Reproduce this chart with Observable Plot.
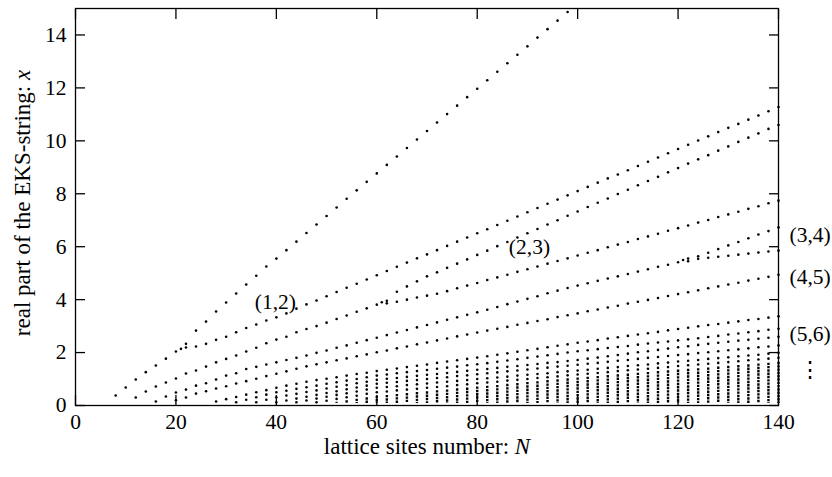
<!DOCTYPE html>
<html><head><meta charset="utf-8">
<script src="https://cdn.jsdelivr.net/npm/d3@7"></script>
<script src="https://cdn.jsdelivr.net/npm/@observablehq/plot@0.6"></script>
<style>body{margin:0;background:#fff}#chart svg{display:block}</style>
</head><body><div id="chart"></div>
<script>
// ---- data (x = real part of EKS string, N = lattice sites) ----
const xTicks = [0, 20, 40, 60, 80, 100, 120, 140];
const yTicks = [0, 2, 4, 6, 8, 10, 12, 14];

const trackA_N0 = 22;
const trackA = [2.33,2.83,3.17,3.55,3.89,4.23,4.57,4.9,5.25,5.55,5.87,6.19,6.52,6.84,7.16,7.48,7.81,8.13,8.45,8.77,9.09,9.41,9.73,10.05,10.37,10.69,11.01,11.33,11.65,11.97,12.29,12.61,12.93,13.25,13.57,13.9,14.22,14.54,14.87];
const trackB_N0 = 8;
const trackB = [0.38,0.68,0.98,1.26,1.51,1.77,2.04,2.19,2.23,2.33,2.48,2.6,2.77,2.93,3.06,3.21,3.33,3.48,3.66,3.82,3.97,4.13,4.29,4.45,4.6,4.76,4.92,5.08,5.24,5.4,5.56,5.71,5.87,6.03,6.19,6.35,6.51,6.66,6.82,6.98,7.14,7.3,7.46,7.62,7.78,7.94,8.1,8.26,8.42,8.58,8.73,8.89,9.05,9.21,9.37,9.53,9.69,9.85,10.01,10.17,10.33,10.49,10.64,10.8,10.96,11.12,11.28];
const trackC_N0 = 12;
const trackC = [0.3,0.53,0.72,0.87,1.02,1.21,1.32,1.47,1.63,1.76,1.89,2.04,2.18,2.35,2.49,2.6,2.77,2.89,3.0,3.13,3.27,3.4,3.54,3.67,3.81,3.86,3.92,4.0,4.08,4.15,4.22,4.32,4.43,4.53,4.63,4.74,4.84,4.94,5.05,5.15,5.25,5.36,5.46,5.56,5.67,5.77,5.87,5.98,6.08,6.18,6.29,6.39,6.49,6.6,6.7,6.8,6.91,7.01,7.12,7.22,7.32,7.43,7.53,7.64,7.74];
const trackCu_N0 = 62;
const trackCu = [3.96,4.3,4.5,4.69,4.88,5.03,5.2,5.36,5.52,5.69,5.85,6.02,6.18,6.35,6.51,6.67,6.84,7.0,7.17,7.33,7.5,7.66,7.82,7.99,8.15,8.32,8.48,8.64,8.81,8.97,9.14,9.3,9.46,9.63,9.79,9.96,10.12,10.28,10.45,10.6];
const trackD_N0 = 16;
const trackD = [0.15,0.34,0.49,0.6,0.75,0.84,0.98,1.13,1.22,1.38,1.46,1.55,1.63,1.72,1.8,1.89,1.99,2.08,2.18,2.27,2.37,2.47,2.56,2.66,2.76,2.85,2.95,3.04,3.14,3.24,3.33,3.43,3.52,3.62,3.72,3.83,3.93,4.03,4.13,4.24,4.34,4.44,4.53,4.62,4.71,4.8,4.88,4.97,5.06,5.15,5.24,5.32,5.41,5.55,5.64,5.77,5.91,6.05,6.18,6.32,6.46,6.59,6.73];
const trackE_N0 = 122;
const trackE = [5.45,5.54,5.58,5.62,5.66,5.7,5.74,5.78,5.82,5.85];
const trackF_N0 = 20;
const trackF = [0.2,0.3,0.45,0.54,0.64,0.73,0.83,0.92,1.01,1.11,1.2,1.29,1.39,1.48,1.56,1.63,1.71,1.78,1.86,1.93,2.01,2.08,2.16,2.23,2.31,2.38,2.46,2.53,2.61,2.68,2.76,2.83,2.9,2.97,3.05,3.12,3.19,3.26,3.34,3.41,3.48,3.56,3.63,3.7,3.77,3.85,3.92,3.99,4.06,4.14,4.21,4.28,4.35,4.43,4.5,4.57,4.64,4.72,4.79,4.86,4.94];
const trackG1_N0 = 28;
const trackG1 = [0.15,0.24,0.32,0.41,0.5,0.58,0.67,0.75,0.82,0.9,0.96,1.01,1.07,1.13,1.19,1.24,1.3,1.35,1.4,1.45,1.5,1.55,1.61,1.66,1.71,1.76,1.81,1.86,1.92,1.97,2.03,2.09,2.14,2.2,2.26,2.31,2.37,2.42,2.47,2.53,2.58,2.63,2.68,2.73,2.78,2.84,2.89,2.94,2.99,3.04,3.08,3.13,3.18,3.23,3.27,3.32,3.37];
const trackG2_N0 = 32;
const trackG2 = [0.12,0.22,0.31,0.41,0.5,0.56,0.63,0.69,0.75,0.82,0.88,0.94,1.0,1.07,1.13,1.17,1.22,1.26,1.3,1.34,1.39,1.43,1.47,1.52,1.56,1.6,1.65,1.7,1.75,1.8,1.85,1.9,1.95,2.0,2.05,2.09,2.13,2.17,2.21,2.25,2.3,2.34,2.38,2.42,2.46,2.5,2.54,2.59,2.63,2.68,2.72,2.77,2.81,2.86,2.9];
const trackG3_N0 = 36;
const trackG3 = [0.12,0.22,0.31,0.38,0.44,0.51,0.57,0.64,0.71,0.77,0.84,0.9,0.97,1.01,1.04,1.08,1.12,1.16,1.19,1.23,1.27,1.31,1.35,1.38,1.42,1.46,1.49,1.53,1.57,1.61,1.64,1.68,1.72,1.77,1.81,1.86,1.91,1.96,2.01,2.05,2.1,2.15,2.2,2.24,2.29,2.33,2.37,2.41,2.45,2.48,2.52,2.56,2.6];
const trackG4_N0 = 40;
const trackG4 = [0.12,0.19,0.26,0.33,0.4,0.47,0.54,0.61,0.68,0.75,0.82,0.86,0.89,0.93,0.96,1.0,1.04,1.07,1.11,1.14,1.18,1.22,1.25,1.29,1.32,1.36,1.4,1.43,1.47,1.5,1.54,1.58,1.61,1.65,1.69,1.72,1.76,1.8,1.83,1.87,1.91,1.94,1.98,2.01,2.05,2.09,2.12,2.16,2.2,2.23,2.27];
const trackG5_N0 = 44;
const trackG5 = [0.12,0.19,0.26,0.33,0.4,0.46,0.53,0.6,0.67,0.7,0.73,0.77,0.8,0.83,0.87,0.9,0.93,0.96,1.0,1.03,1.06,1.09,1.13,1.16,1.19,1.22,1.26,1.29,1.32,1.35,1.39,1.42,1.45,1.49,1.52,1.55,1.59,1.62,1.66,1.69,1.72,1.76,1.79,1.82,1.86,1.89,1.92,1.96,1.99];
const trackG6_N0 = 48;
const trackG6 = [0.12,0.18,0.25,0.31,0.37,0.44,0.5,0.53,0.57,0.6,0.63,0.67,0.7,0.73,0.77,0.8,0.84,0.87,0.9,0.94,0.97,1.0,1.04,1.07,1.1,1.14,1.17,1.2,1.23,1.26,1.3,1.33,1.36,1.39,1.42,1.45,1.49,1.52,1.55,1.58,1.61,1.64,1.67,1.71,1.74,1.77,1.8];
// tightly packed columns of roots below the resolvable tracks: top of each column
const denseTop_N0 = 52;
const denseTop = [0.12,0.18,0.24,0.29,0.35,0.38,0.42,0.45,0.49,0.52,0.56,0.59,0.63,0.66,0.7,0.73,0.76,0.8,0.83,0.87,0.9,0.94,0.97,1.01,1.04,1.07,1.1,1.13,1.16,1.19,1.22,1.25,1.28,1.31,1.34,1.37,1.39,1.42,1.45,1.48,1.51,1.54,1.57,1.6,1.63];
const denseBottom = 0.08;
// extra roots near the branch points
const extraN = [21, 61, 121];
const extraX = [2.14, 3.9, 5.5];

// branch labels
const labelText = ["(1,2)", "(2,3)", "(3,4)", "(4,5)", "(5,6)", "⋮"];
const labelN = [39.8, 90.4, 146.3, 146.3, 146.3, 146.3];
const labelX = [3.92, 6.0, 6.45, 4.85, 2.68, 1.35];

// ---- build tables ----
const tracks = [
  [trackA_N0, trackA], [trackB_N0, trackB], [trackC_N0, trackC], [trackCu_N0, trackCu],
  [trackD_N0, trackD], [trackE_N0, trackE], [trackF_N0, trackF],
  [trackG1_N0, trackG1], [trackG2_N0, trackG2], [trackG3_N0, trackG3],
  [trackG4_N0, trackG4], [trackG5_N0, trackG5], [trackG6_N0, trackG6]
];
const points = [];
for (const [n0, ys] of tracks) ys.forEach((v, i) => points.push({N: n0 + 2 * i, x: v}));
extraN.forEach((n, i) => points.push({N: n, x: extraX[i]}));
const dense = denseTop.map((t, i) => ({N: denseTop_N0 + 2 * i, top: t, bottom: denseBottom}));
const labels = labelText.map((t, i) => ({t, N: labelN[i], x: labelX[i]}));

const FONT = "'Liberation Serif', 'DejaVu Serif', serif";
const FS = 21.5;
const FT = 23;
const TL = 10;
const X_TITLE = "lattice sites number: N";
const Y_TITLE = "real part of the EKS-string: x";

const chart = Plot.plot({
  width: 832, height: 477,
  marginLeft: 75, marginRight: 54, marginTop: 8, marginBottom: 72,
  style: {fontFamily: FONT, fontSize: FS + "px", background: "#fff", color: "#000", overflow: "visible"},
  x: {domain: [0, 140]},
  y: {domain: [0, 15]},
  marks: [
    Plot.ruleX(dense, {x: "N", y1: "top", y2: "bottom", stroke: "#000", strokeWidth: 2.4, strokeDasharray: "2.4,0.9"}),
    Plot.dot(points, {x: "N", y: "x", r: 1.3, fill: "#000", stroke: null}),
    Plot.axisX({ticks: xTicks, tickSize: 0, tickPadding: 8, label: null, fontSize: FS}),
    Plot.axisY({ticks: yTicks, tickSize: 0, tickPadding: 9, label: null, fontSize: FS}),
    // inward ticks: outward axes shifted inside the frame by their own length
    Plot.axisX({ticks: xTicks, anchor: "bottom", tickSize: TL, dy: -TL, tickFormat: () => "", label: null, strokeWidth: 1.3}),
    Plot.axisX({ticks: xTicks, anchor: "top", tickSize: TL, dy: TL, tickFormat: () => "", label: null, strokeWidth: 1.3}),
    Plot.axisY({ticks: yTicks, anchor: "left", tickSize: TL, dx: TL, tickFormat: () => "", label: null, strokeWidth: 1.3}),
    Plot.axisY({ticks: yTicks, anchor: "right", tickSize: TL, dx: -TL, tickFormat: () => "", label: null, strokeWidth: 1.3}),
    Plot.frame({stroke: "#000", strokeWidth: 1.3}),
    Plot.text(labels, {x: "N", y: "x", text: "t", fontSize: FS, textAnchor: "middle", clip: false}),
    Plot.text([X_TITLE], {frameAnchor: "bottom", dy: 48, textAnchor: "middle", text: d => d, fontSize: FT}),
    Plot.text([Y_TITLE], {frameAnchor: "left", dx: -53, dy: -4, rotate: -90, textAnchor: "middle", text: d => d, fontSize: FT})
  ]
});
document.getElementById("chart").append(chart);

// math-italic variables in the axis titles
d3.select(chart).selectAll("text").each(function () {
  const s = this.textContent;
  if (s !== X_TITLE && s !== Y_TITLE) return;
  const t = d3.select(this);
  t.attr("text-anchor", "middle").text(null);
  t.append("tspan").text(s.slice(0, -1));
  t.append("tspan").attr("font-style", "italic").text(s.slice(-1));
});
</script>
</body></html>
